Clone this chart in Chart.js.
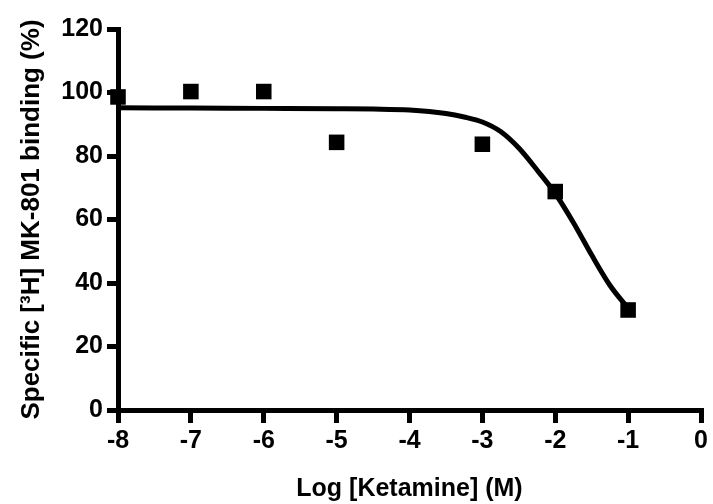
<!DOCTYPE html>
<html>
<head>
<meta charset="utf-8">
<script src="https://cdn.jsdelivr.net/npm/chart.js@4/dist/chart.umd.min.js"></script>
<style>
  html, body { margin: 0; padding: 0; background: #fff; }
  #wrap { width: 713px; height: 504px; position: relative; }
</style>
</head>
<body>
<div id="wrap"><canvas id="c" width="713" height="504"></canvas></div>
<script>
// Measured data points (log molar ketamine vs specific binding %)
const logConc = [-8, -7, -6, -5, -3, -2, -1];
const binding = [98.6, 100.3, 100.3, 84.3, 83.7, 68.8, 31.5];

// Fitted curve
const fitX = [-8, -7, -6, -5, -4.5, -4, -3.5, -3.25, -3, -2.75, -2.5, -2.25, -2, -1.75, -1.5, -1.25, -1];
const fitY = [95.2, 95.1, 95.0, 94.9, 94.8, 94.5, 93.4, 92.3, 90.7, 87.7, 82.5, 75.6, 68.2, 59, 48.8, 39.3, 32];

// Axis ticks
const xTicks = [-8, -7, -6, -5, -4, -3, -2, -1, 0];
const yTicks = [0, 20, 40, 60, 80, 100, 120];

const xTitle = 'Log [Ketamine] (M)';
const yTitle = 'Specific [³H] MK-801 binding (%)';

const font = 'Liberation Sans, Arial, Helvetica, sans-serif';

new Chart(document.getElementById('c'), {
  type: 'scatter',
  data: {
    datasets: [
      {
        type: 'line',
        data: fitX.map((x, i) => ({ x: x, y: fitY[i] })),
        borderColor: '#000',
        borderWidth: 5,
        pointRadius: 0,
        fill: false,
        cubicInterpolationMode: 'monotone',
        clip: false,
        order: 2
      },
      {
        type: 'scatter',
        data: logConc.map((x, i) => ({ x: x, y: binding[i] })),
        pointStyle: 'rect',
        pointRadius: 11,
        backgroundColor: '#000',
        borderColor: '#000',
        borderWidth: 0,
        clip: false,
        order: 1
      }
    ]
  },
  options: {
    responsive: false,
    animation: false,
    devicePixelRatio: 1,
    layout: { padding: { top: 29, right: 12, left: 0, bottom: 0 } },
    plugins: { legend: { display: false }, tooltip: { enabled: false } },
    scales: {
      x: {
        type: 'linear',
        min: -8, max: 0,
        afterBuildTicks: (ax) => { ax.ticks = xTicks.map(v => ({ value: v })); },
        afterFit: (ax) => { ax.height = 94; },
        border: { display: true, color: '#000', width: 5 },
        grid: { display: true, drawOnChartArea: false, drawTicks: true, tickLength: 13, tickWidth: 5, tickColor: '#000', color: '#000', lineWidth: 5 },
        ticks: { color: '#000', padding: 3, font: { family: font, size: 25, weight: 'bold' } },
        title: { display: true, text: xTitle, color: '#000', padding: { top: 4, bottom: 0 }, font: { family: font, size: 25, weight: 'bold' } }
      },
      y: {
        type: 'linear',
        min: 0, max: 120,
        afterBuildTicks: (ax) => { ax.ticks = yTicks.map(v => ({ value: v })); },
        afterFit: (ax) => { ax.width = 118; },
        border: { display: true, color: '#000', width: 5 },
        grid: { display: true, drawOnChartArea: false, drawTicks: true, tickLength: 11, tickWidth: 5, tickColor: '#000', color: '#000', lineWidth: 5 },
        ticks: { color: '#000', padding: 4, font: { family: font, size: 25, weight: 'bold' } },
        title: { display: true, text: yTitle, color: '#000', padding: { top: 16, bottom: 0 }, font: { family: font, size: 26, weight: 'bold' } }
      }
    }
  }
});
</script>
</body>
</html>
